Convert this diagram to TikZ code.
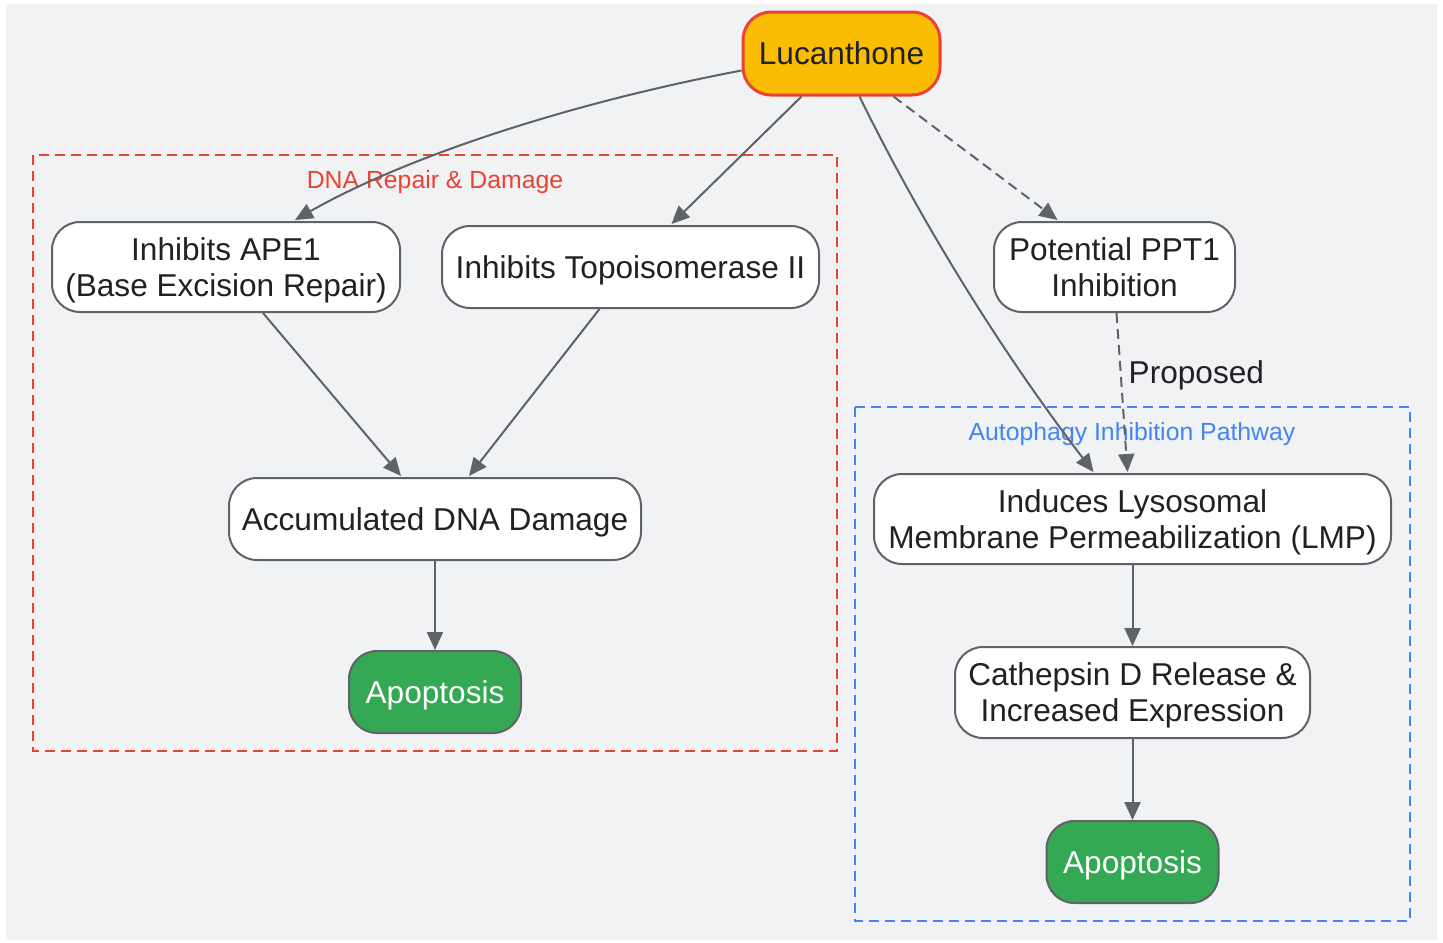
\documentclass[tikz,border=0pt]{standalone}
\usepackage{fontspec}
\setmainfont{Liberation Sans}
\usetikzlibrary{arrows.meta,calc}
\definecolor{bgc}{HTML}{F1F2F4}
\definecolor{edgec}{HTML}{5F6368}
\definecolor{txtc}{HTML}{202124}
\definecolor{redc}{HTML}{EA4335}
\definecolor{bluec}{HTML}{4285F4}
\definecolor{yelc}{HTML}{FBBC04}
\definecolor{grnc}{HTML}{34A853}
\tikzset{
  box/.style={draw=edgec, line width=1pt, fill=white, rounded corners=14pt, align=center,
    font=\fontsize{15.8}{18}\selectfont, text=txtc, inner sep=0pt, text depth=-2pt},
  startbox/.style={box, draw=redc, fill=yelc, line width=1.5pt},
  endbox/.style={box, fill=grnc, text=white},
  conn/.style={draw=edgec, line width=1pt, -{Triangle[length=9pt,width=8pt]}},
  dconn/.style={conn, dash pattern=on 5pt off 3pt},
  cluster/.style={line width=1pt, dash pattern=on 5pt off 3pt},
  clabel/.style={font=\fontsize{12.4}{14}\selectfont, inner sep=0pt},
}
\begin{document}
\begin{tikzpicture}[x=0.5pt,y=-0.5pt]
\useasboundingbox (0,0) rectangle (1443,942);
\fill[white] (0,0) rectangle (1443,942);
\fill[bgc] (6,4) rectangle (1437,940);

% clusters
\draw[cluster, draw=redc] (33,155) rectangle (837,751);
\node[clabel, text=redc] (redlab) at (435,182) {DNA Repair \& Damage};
\draw[cluster, draw=bluec] (855,407) rectangle (1410,921);
\node[clabel, text=bluec] (bluelab) at (1132,434) {Autophagy Inhibition Pathway};

% nodes
\node[startbox, minimum width=98.5pt, minimum height=41.5pt] (luc) at (841.5,53.5) {Lucanthone};
\node[box, minimum width=174pt, minimum height=45pt] (ape) at (226,267) {Inhibits APE1\\(Base Excision Repair)};
\node[box, minimum width=188.5pt, minimum height=41pt] (topo) at (630.5,267) {Inhibits Topoisomerase II};
\node[box, minimum width=120.5pt, minimum height=45pt] (ppt) at (1114.5,267) {Potential PPT1\\Inhibition};
\node[box, minimum width=206pt, minimum height=41pt] (dna) at (435,519) {Accumulated DNA Damage};
\node[endbox, minimum width=86pt, minimum height=41pt] (apo1) at (435,692) {Apoptosis};
\node[box, minimum width=258.5pt, minimum height=45pt] (lmp) at (1132.5,519) {Induces Lysosomal\\Membrane Permeabilization (LMP)};
\node[box, minimum width=177.5pt, minimum height=45.5pt] (cat) at (1132.5,692.5) {Cathepsin D Release \&\\Increased Expression};
\node[endbox, minimum width=86pt, minimum height=41pt] (apo2) at (1132.5,862) {Apoptosis};

% edges
\draw[conn] ($(luc.west)+(0,17)$) .. controls (560,105) and (400,160) .. ($(ape.north)+(69,-1)$);
\draw[conn] ($(luc.south)+(-40,0)$) -- ($(topo.north)+(41,-1)$);
\draw[conn] ($(luc.south)+(18,0)$) .. controls (920,220) and (1000,350) .. ($(lmp.north)+(-39,-1)$);
\draw[dconn] ($(luc.south)+(52,0)$) -- ($(ppt.north)+(-57,-1)$);
\draw[dconn] ($(ppt.south)+(2,0)$) -- node[pos=0.38, right, font=\fontsize{15.8}{18}\selectfont, text=txtc, inner sep=3.5pt, yshift=-1pt] (prop) {Proposed} ($(lmp.north)+(-5,-1)$);
\draw[conn] ($(ape.south)+(37,0)$) -- ($(dna.north)+(-34,-1)$);
\draw[conn] ($(topo.south)+(-31,0)$) -- ($(dna.north)+(34,-1)$);
\draw[conn] (dna.south) -- (apo1.north);
\draw[conn] (lmp.south) -- (cat.north);
\draw[conn] (cat.south) -- (apo2.north);
\end{tikzpicture}
\end{document}
